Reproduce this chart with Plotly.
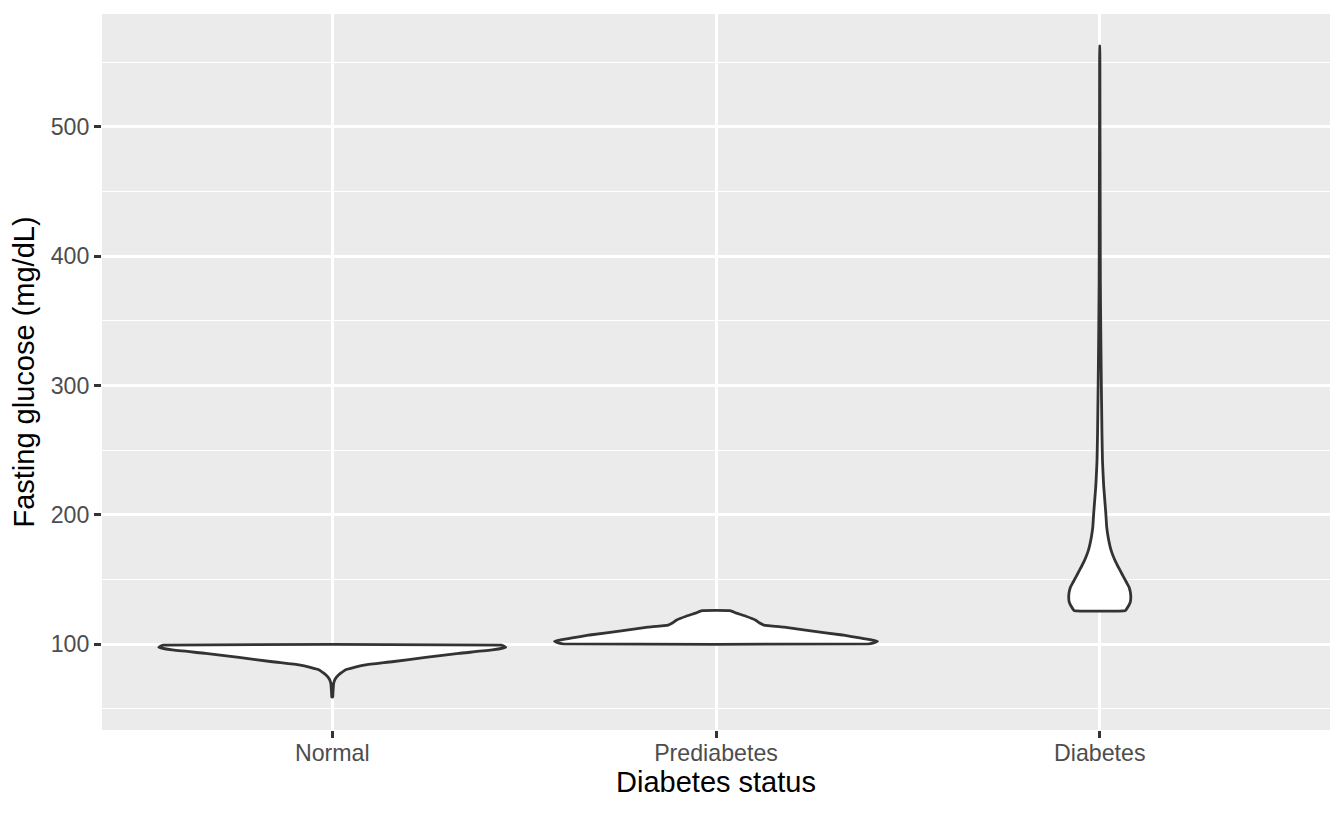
import plotly.graph_objects as go

# ---- data ----
categories = ["Normal", "Prediabetes", "Diabetes"]

# violin profiles: glucose level and relative density (widest Normal point = 1)
normal_glucose = [59, 62, 66, 69.6, 73, 76, 78, 80, 82, 83.8, 86.3, 89.7, 92.8, 95.4, 97.4, 98.4, 99.2]
normal_density = [0.003, 0.004, 0.006, 0.008, 0.017, 0.036, 0.055, 0.075, 0.127, 0.191, 0.345, 0.538, 0.730, 0.923, 1.0, 0.99, 0.975]

prediab_glucose = [100.2, 101.0, 102.3, 104.5, 107.0, 110.3, 113.0, 114.7, 116.5, 118.6, 121.7, 124.0, 125.8]
prediab_density = [0.88, 0.913, 0.931, 0.838, 0.728, 0.536, 0.393, 0.276, 0.249, 0.227, 0.169, 0.116, 0.081]

diab_glucose = [126.0, 128.9, 132.5, 136.6, 140.5, 144.3, 148, 152, 156, 159.8, 163.5, 167.5, 171.5,
                175.2, 183, 190.7, 201, 211.4, 221.7, 232, 242.3, 263, 281, 300, 343, 380, 450, 500,
                540, 562.7]
diab_density = [0.148, 0.163, 0.176, 0.179, 0.176, 0.168, 0.153, 0.137, 0.121, 0.106, 0.092, 0.079,
                0.068, 0.060, 0.048, 0.040, 0.035, 0.029, 0.023, 0.019, 0.0156, 0.0127, 0.011,
                0.0092, 0.0058, 0.0035, 0.0023, 0.0014, 0.0009, 0.0003]

y_ticks = [100, 200, 300, 400, 500]
y_minor = [50, 150, 250, 350, 450, 550]

profiles = [(normal_glucose, normal_density),
            (prediab_glucose, prediab_density),
            (diab_glucose, diab_density)]

MAX_HALF = 0.452  # half of violin width in category units for density 1

fig = go.Figure()
for i, (g, d) in enumerate(profiles, start=1):
    left_x = [i - MAX_HALF * v for v in d]
    right_x = [i + MAX_HALF * v for v in reversed(d)]
    xs = left_x + right_x + [left_x[0]]
    ys = list(g) + list(reversed(g)) + [g[0]]
    fig.add_trace(go.Scatter(
        x=xs, y=ys, mode="lines", fill="toself", fillcolor="white",
        line=dict(color="#333333", width=2.8, shape="spline", smoothing=0.3),
        hoverinfo="skip", showlegend=False,
    ))

tick_font = dict(family="Liberation Sans, Arial, sans-serif", size=23.2, color="#4D4D4D")
title_font = dict(family="Liberation Sans, Arial, sans-serif", size=29, color="black")

# the page body adds an 8px offset, so the figure is 16px smaller than the window
fig.update_layout(
    width=1328, height=800,
    margin=dict(l=94, r=6, t=6, b=78),
    paper_bgcolor="white", plot_bgcolor="#EBEBEB",
    showlegend=False,
    xaxis=dict(
        range=[0.4, 3.6], tickmode="array", tickvals=[1, 2, 3], ticktext=categories,
        showgrid=True, gridcolor="white", gridwidth=2.7, zeroline=False,
        ticks="outside", ticklen=7, tickwidth=2.7, tickcolor="#333333",
        tickfont=tick_font, showline=False, ticklabelstandoff=-5,
        title=dict(text="Diabetes status", font=title_font, standoff=6),
    ),
    yaxis=dict(
        range=[33.5, 587.4], tickmode="array", tickvals=y_ticks,
        ticktext=[str(v) for v in y_ticks],
        showgrid=True, gridcolor="white", gridwidth=2.7, zeroline=False,
        ticks="outside", ticklen=7, tickwidth=2.7, tickcolor="#333333",
        tickfont=tick_font, showline=False,
        minor=dict(tickmode="array", tickvals=y_minor,
                   showgrid=True, gridcolor="white", gridwidth=1.3, ticks=""),
        title=dict(text="Fasting glucose (mg/dL)", font=title_font, standoff=8),
    ),
)

fig.write_html("out.html")
